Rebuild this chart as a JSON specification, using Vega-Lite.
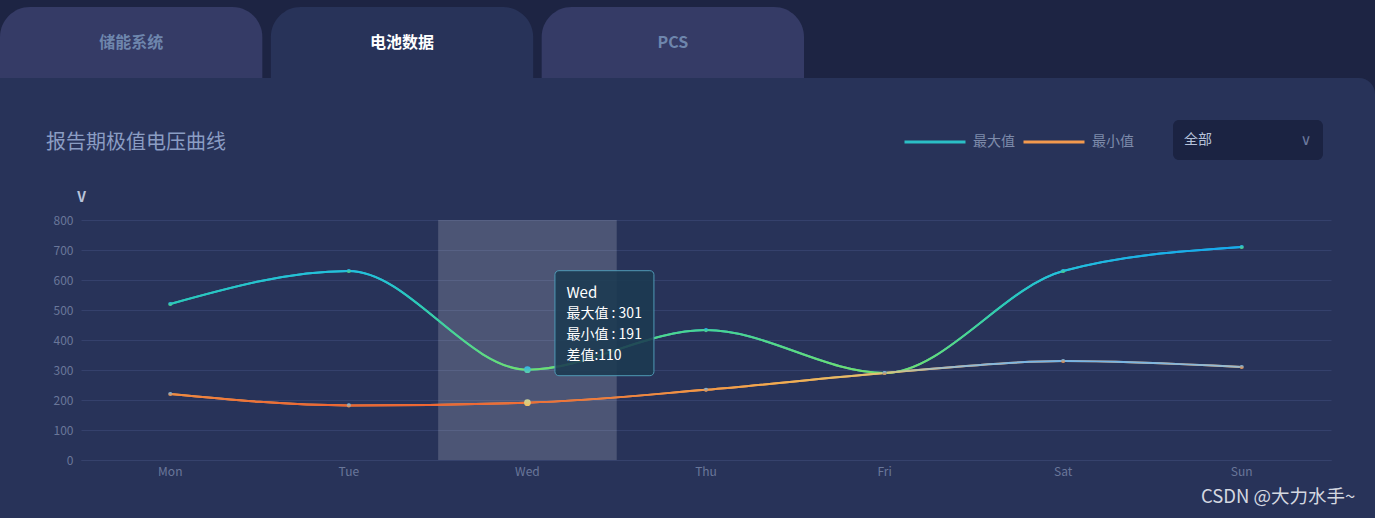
{
  "$schema": "https://vega.github.io/schema/vega-lite/v6.json",
  "width": 1250,
  "height": 240,
  "autosize": {"type": "none"},
  "padding": {"left": 81, "top": 220, "right": 44, "bottom": 58},
  "background": "#283359",
  "config": {"view": {"stroke": null}, "font": "Noto Sans CJK SC", "axisY": {"tickCount": 8, "labelOverlap": false}},
  "datasets": {
    "voltage": [
      {"day": "Mon", "series": "最大值", "value": 520},
      {"day": "Tue", "series": "最大值", "value": 630},
      {"day": "Wed", "series": "最大值", "value": 301},
      {"day": "Thu", "series": "最大值", "value": 433},
      {"day": "Fri", "series": "最大值", "value": 290},
      {"day": "Sat", "series": "最大值", "value": 630},
      {"day": "Sun", "series": "最大值", "value": 710},
      {"day": "Mon", "series": "最小值", "value": 220},
      {"day": "Tue", "series": "最小值", "value": 182},
      {"day": "Wed", "series": "最小值", "value": 191},
      {"day": "Thu", "series": "最小值", "value": 234},
      {"day": "Fri", "series": "最小值", "value": 290},
      {"day": "Sat", "series": "最小值", "value": 330},
      {"day": "Sun", "series": "最小值", "value": 310}
    ],
    "tooltip": [
      {"day": "Wed", "value": 301, "lines": ["最大值 : 301", "最小值 : 191", "差值:110"]}
    ],
    "highlight": [{"day": "Wed"}]
  },
  "layer": [
    {
      "data": {"values": [{"part": "top"}]},
      "mark": {"type": "rect", "color": "#1d2443"},
      "encoding": {
        "x": {"field": "part", "type": "nominal", "axis": null, "scale": {"type": "band", "range": [-81, 1294], "paddingInner": 0, "paddingOuter": 0}},
        "y": {"field": "part", "type": "nominal", "axis": null, "scale": {"type": "band", "range": [-220, -142], "paddingInner": 0, "paddingOuter": 0}}
      }
    },
    {
      "data": {"values": [{"part": "corner"}]},
      "mark": {"type": "rect", "color": "#1d2443"},
      "encoding": {
        "x": {"field": "part", "type": "nominal", "axis": null, "scale": {"type": "band", "range": [1276, 1294], "paddingInner": 0, "paddingOuter": 0}},
        "y": {"field": "part", "type": "nominal", "axis": null, "scale": {"type": "band", "range": [-142, -124], "paddingInner": 0, "paddingOuter": 0}}
      }
    },
    {
      "data": {"values": [{"part": "panelcorner"}]},
      "mark": {"type": "rect", "color": "#283359", "cornerRadiusTopRight": 16},
      "encoding": {
        "x": {"field": "part", "type": "nominal", "axis": null, "scale": {"type": "band", "range": [1262, 1294], "paddingInner": 0, "paddingOuter": 0}},
        "y": {"field": "part", "type": "nominal", "axis": null, "scale": {"type": "band", "range": [-142, -110], "paddingInner": 0, "paddingOuter": 0}}
      }
    },
    {
      "data": {"values": [
        {"tab": "储能系统", "state": "off", "group": "tabs"},
        {"tab": "电池数据", "state": "on", "group": "tabs"},
        {"tab": "PCS", "state": "off", "group": "tabs"}
      ]},
      "encoding": {
        "x": {"field": "tab", "type": "nominal", "sort": null, "axis": null, "scale": {"type": "band", "range": [-81, 723], "paddingInner": 0.0314, "paddingOuter": 0}},
        "y": {"field": "group", "type": "nominal", "axis": null, "scale": {"type": "band", "range": [-213, -142], "paddingInner": 0, "paddingOuter": 0}}
      },
      "layer": [
        {
          "mark": {"type": "rect", "cornerRadiusTopLeft": 30, "cornerRadiusTopRight": 30},
          "encoding": {"fill": {"field": "state", "type": "nominal", "legend": null, "scale": {"domain": ["off", "on"], "range": ["#353b66", "#283359"]}}}
        },
        {
          "mark": {"type": "text", "fontSize": 16, "fontWeight": "bold", "baseline": "middle", "align": "center"},
          "encoding": {
            "text": {"field": "tab"},
            "color": {"field": "state", "type": "nominal", "legend": null, "scale": {"domain": ["off", "on"], "range": ["#6e86ad", "#ffffff"]}}
          }
        }
      ]
    },
    {
      "data": {"values": [{"label": "报告期极值电压曲线"}]},
      "mark": {"type": "text", "align": "left", "baseline": "middle", "fontSize": 20, "color": "#8b9dc3"},
      "encoding": {
        "x": {"field": "label", "type": "nominal", "axis": null, "scale": {"type": "point", "range": [-35, -35]}},
        "y": {"field": "label", "type": "nominal", "axis": null, "scale": {"type": "point", "range": [-77, -77]}},
        "text": {"field": "label"}
      }
    },
    {
      "data": {"values": [{"label": "全部", "icon": "∨"}]},
      "encoding": {
        "x": {"field": "label", "type": "nominal", "axis": null, "scale": {"type": "band", "range": [1092, 1242], "paddingInner": 0, "paddingOuter": 0}},
        "y": {"field": "label", "type": "nominal", "axis": null, "scale": {"type": "band", "range": [-100, -60], "paddingInner": 0, "paddingOuter": 0}}
      },
      "layer": [
        {"mark": {"type": "rect", "color": "#1b2342", "cornerRadius": 6}},
        {"mark": {"type": "text", "align": "left", "baseline": "middle", "dx": -64, "fontSize": 14, "color": "#b6c2da"}, "encoding": {"text": {"field": "label"}}},
        {"mark": {"type": "text", "align": "center", "baseline": "middle", "dx": 58, "fontSize": 15, "color": "#6b799e", "font": "DejaVu Sans"}, "encoding": {"text": {"field": "icon"}}}
      ]
    },
    {
      "data": {"name": "voltage"},
      "encoding": {
        "x": {"field": "day", "type": "nominal", "scale": {"type": "band", "domain": ["Mon", "Tue", "Wed", "Thu", "Fri", "Sat", "Sun"], "paddingInner": 0, "paddingOuter": 0},
          "axis": {"title": null, "labelAngle": 0, "labelColor": "#6a7799", "labelFontSize": 12, "labelPadding": 6, "ticks": false, "domainColor": "#36426c", "grid": false}}
      },
      "layer": [
        {
          "data": {"name": "highlight"},
          "mark": {"type": "rect", "color": "#ffffff", "opacity": 0.17}
        },
        {
          "mark": {"type": "line", "interpolate": "monotone", "strokeWidth": 2},
          "encoding": {
            "y": {"field": "value", "type": "quantitative", "title": "V", "scale": {"domain": [0, 800]},
              "axis": {"tickCount": 8, "labelOverlap": false, "grid": true, "titleAngle": 0, "titleX": 0, "titleY": -23, "titleAlign": "center", "titleBaseline": "middle", "titleColor": "#b9c3da", "titleFontSize": 14, "titleFontWeight": "bold", "labelColor": "#6a7799", "labelFontSize": 12, "labelPadding": 8, "ticks": false, "domain": false, "gridColor": "#35416c", "gridWidth": 1}},
            "color": {"field": "series", "type": "nominal", "scale": {"domain": ["最大值", "最小值"], "range": ["#2bbfc6", "#f39a4e"]},
              "legend": {"orient": "none", "legendX": 822, "legendY": -110, "direction": "horizontal", "title": null, "symbolType": "stroke", "symbolSize": 3721, "symbolStrokeWidth": 3, "labelColor": "#7e8bab", "labelFontSize": 14, "labelOffset": 6, "columnPadding": 2, "padding": 0}}
          }
        },
        {
          "transform": [{"filter": "datum.series === '最大值'"}],
          "mark": {"type": "line", "interpolate": "monotone", "strokeWidth": 2,
            "stroke": {"gradient": "linear", "x1": 0, "y1": 0, "x2": 0, "y2": 1, "stops": [
              {"offset": 0, "color": "#16a8f2"}, {"offset": 0.18, "color": "#22c0de"}, {"offset": 0.45, "color": "#2ccab6"}, {"offset": 0.68, "color": "#4cd690"}, {"offset": 1, "color": "#74de6c"}]}},
          "encoding": {"y": {"field": "value", "type": "quantitative", "title": "V"}}
        },
        {
          "transform": [{"filter": "datum.series === '最小值'"}],
          "mark": {"type": "line", "interpolate": "monotone", "strokeWidth": 2,
            "stroke": {"gradient": "linear", "x1": 0, "y1": 0, "x2": 0, "y2": 1, "stops": [
              {"offset": 0, "color": "#72b4e8"}, {"offset": 0.14, "color": "#9cbccc"}, {"offset": 0.28, "color": "#dcc474"}, {"offset": 0.5, "color": "#f3ad50"}, {"offset": 0.75, "color": "#f28a40"}, {"offset": 1, "color": "#ee6432"}]}},
          "encoding": {"y": {"field": "value", "type": "quantitative", "title": "V"}}
        },
        {
          "transform": [{"filter": "datum.series === '最大值' && datum.day !== 'Wed'"}],
          "mark": {"type": "circle", "size": 18, "opacity": 1,
            "fill": {"gradient": "linear", "x1": 0, "y1": 0, "x2": 0, "y2": 1, "stops": [{"offset": 0, "color": "#20b4ec"}, {"offset": 1, "color": "#52d67e"}]}},
          "encoding": {"y": {"field": "value", "type": "quantitative", "title": "V"}}
        },
        {
          "transform": [{"filter": "datum.series === '最小值' && datum.day !== 'Wed'"}],
          "mark": {"type": "circle", "size": 18, "opacity": 1,
            "fill": {"gradient": "linear", "x1": 0, "y1": 0, "x2": 0, "y2": 1, "stops": [{"offset": 0, "color": "#70b6e6"}, {"offset": 1, "color": "#f28a3c"}]}},
          "encoding": {"y": {"field": "value", "type": "quantitative", "title": "V"}}
        },
        {
          "transform": [{"filter": "datum.series === '最大值' && datum.day === 'Wed'"}],
          "mark": {"type": "circle", "size": 45, "opacity": 1,
            "fill": {"gradient": "linear", "x1": 0, "y1": 0, "x2": 0, "y2": 1, "stops": [{"offset": 0, "color": "#34b2e6"}, {"offset": 1, "color": "#5ccfa6"}]}},
          "encoding": {"y": {"field": "value", "type": "quantitative", "title": "V"}}
        },
        {
          "transform": [{"filter": "datum.series === '最小值' && datum.day === 'Wed'"}],
          "mark": {"type": "circle", "size": 45, "opacity": 1,
            "fill": {"gradient": "linear", "x1": 0, "y1": 0, "x2": 0, "y2": 1, "stops": [{"offset": 0, "color": "#c6d29a"}, {"offset": 1, "color": "#f2c05e"}]}},
          "encoding": {"y": {"field": "value", "type": "quantitative", "title": "V"}}
        },
        {
          "data": {"name": "tooltip"},
          "mark": {"type": "rect", "width": 99, "xOffset": 77, "yOffset": -99, "y2Offset": 6, "fill": "#1b3a51", "fillOpacity": 0.88, "stroke": "#4f9bb6", "strokeWidth": 1, "cornerRadius": 4},
          "encoding": {"y": {"field": "value", "type": "quantitative", "title": "V"}, "y2": {"field": "value"}}
        },
        {
          "data": {"name": "tooltip"},
          "mark": {"type": "text", "align": "left", "baseline": "middle", "dx": 39, "dy": -77, "fontSize": 15, "color": "#ffffff"},
          "encoding": {"y": {"field": "value", "type": "quantitative", "title": "V"}, "text": {"field": "day"}}
        },
        {
          "data": {"name": "tooltip"},
          "mark": {"type": "text", "align": "left", "baseline": "middle", "dx": 39, "dy": -56, "fontSize": 14, "lineHeight": 21, "color": "#ffffff"},
          "encoding": {"y": {"field": "value", "type": "quantitative", "title": "V"}, "text": {"field": "lines"}}
        }
      ]
    },
    {
      "data": {"values": [{"label": "CSDN @大力水手~"}]},
      "mark": {"type": "text", "align": "left", "baseline": "middle", "fontSize": 18.5, "color": "#d4d8e0"},
      "encoding": {
        "x": {"field": "label", "type": "nominal", "axis": null, "scale": {"type": "point", "range": [1120, 1120]}},
        "y": {"field": "label", "type": "nominal", "axis": null, "scale": {"type": "point", "range": [277, 277]}},
        "text": {"field": "label"}
      }
    }
  ],
  "resolve": {
    "scale": {"x": "independent", "y": "independent", "color": "independent", "fill": "independent"},
    "axis": {"x": "independent", "y": "independent"},
    "legend": {"color": "independent", "fill": "independent"}
  }
}
